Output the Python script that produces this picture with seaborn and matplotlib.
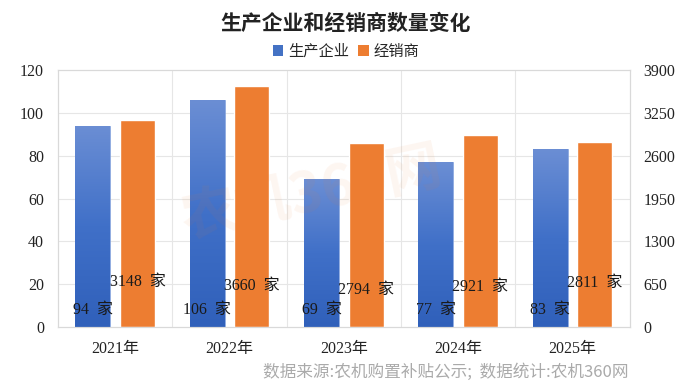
import numpy as np
import pandas as pd
import matplotlib
matplotlib.use("Agg")
import matplotlib.pyplot as plt
import seaborn as sns
from matplotlib.colors import LinearSegmentedColormap
from matplotlib.patches import Patch

years = ["2021年", "2022年", "2023年", "2024年", "2025年"]
producers = [94, 106, 69, 77, 83]
dealers = [3148, 3660, 2794, 2921, 2811]
producer_labels = ["94  家", "106  家", "69  家", "77  家", "83  家"]
dealer_labels = ["3148  家", "3660  家", "2794  家", "2921  家", "2811  家"]
left_ticks = [0, 20, 40, 60, 80, 100, 120]
right_ticks = [0, 650, 1300, 1950, 2600, 3250, 3900]

sns.set_theme(style="white")
CJK = ["Noto Sans CJK SC", "DejaVu Sans"]
SERIF = ["Liberation Serif", "Noto Sans CJK SC"]
plt.rcParams["font.family"] = CJK

fig = plt.figure(figsize=(6.92, 3.87), dpi=100)
ax1 = fig.add_axes([0.0838, 0.155, 0.8262, 0.664])
ax2 = ax1.twinx()

df_p = pd.DataFrame({"year": years, "value": producers})
df_d = pd.DataFrame({"year": years, "value": dealers})

BLUE = "#4472C4"
ORANGE = "#ED7D31"
off = 0.195
w = 0.305
sns.barplot(data=df_p, x="year", y="value", ax=ax1, color=BLUE, width=w,
            saturation=1, legend=False)
sns.barplot(data=df_d, x="year", y="value", ax=ax2, color=ORANGE, width=w,
            saturation=1, legend=False)

for p in ax1.patches:
    p.set_x(p.get_x() - off)
for p in ax2.patches:
    p.set_x(p.get_x() + off)

# gradient for blue bars
cmap = LinearSegmentedColormap.from_list("g", ["#3060BA", "#4070C8", "#6B8ED4"])
grad = np.linspace(0, 1, 256).reshape(-1, 1)
for p in list(ax1.patches):
    x0, y0 = p.get_x(), p.get_y()
    x1, y1 = x0 + p.get_width(), y0 + p.get_height()
    im = ax1.imshow(grad, extent=[x0, x1, y0, y1], origin="lower", cmap=cmap,
                    aspect="auto", zorder=p.get_zorder(), interpolation="bicubic")
    im.set_clip_path(p)
    p.set_facecolor("none")
    p.set_edgecolor("#7F9FDC")
    p.set_linewidth(0.6)
ax1.set_xlim(-0.5, 4.5)
ax1.set_ylim(0, 120)
ax2.set_ylim(0, 3900)
ax1.set_yticks(left_ticks)
ax2.set_yticks(right_ticks)

# grid
for y in left_ticks[1:-1]:
    ax1.axhline(y, color="#E6E6E6", lw=0.8, zorder=0)
for x in [0.5, 1.5, 2.5, 3.5]:
    ax1.axvline(x, color="#E6E6E6", lw=0.8, zorder=0)
ax1.set_axisbelow(True)
ax2.set_zorder(ax1.get_zorder() + 1)
ax2.patch.set_visible(False)

for ax in (ax1, ax2):
    for s in ax.spines.values():
        s.set_color("#D9D9D9")
        s.set_linewidth(0.8)
    ax.set_xlabel("")
    ax.set_ylabel("")
    ax.tick_params(length=0)

ax1.set_xticks(range(5))
ax1.set_xticklabels(years, fontsize=11.5, family=SERIF, color="#222222")
ax1.tick_params(axis="x", pad=10)
for t in ax1.get_yticklabels() + ax2.get_yticklabels():
    t.set_fontsize(11.5); t.set_family(SERIF); t.set_color("#222222")
ax1.tick_params(axis="y", pad=10)
ax2.tick_params(axis="y", pad=10)

# data labels (positioned low inside bars, as in original)
dealer_label_y = [21, 19, 17.5, 18.5, 20.5]
for i, lab in enumerate(producer_labels):
    ax2.text(i - off, 8 * 3900 / 120, lab, ha="center", va="center", fontsize=11.5,
             family=SERIF, color="#1a1a1a", zorder=10)
for i, lab in enumerate(dealer_labels):
    ax2.text(i + off, dealer_label_y[i] * 3900 / 120, lab, ha="center", va="center",
             fontsize=11.5, family=SERIF, color="#1a1a1a", zorder=10)

# watermark
fig.text(0.45, 0.50, "农机360网", fontsize=40, color=ORANGE, alpha=0.07,
         rotation=12, ha="center", va="center", fontweight="bold", family=CJK)

# title & legend
fig.text(0.5, 0.94, "生产企业和经销商数量变化", ha="center", va="center",
         fontsize=15, fontweight="bold", color="#222222", family=CJK)
handles = [Patch(facecolor=BLUE, edgecolor="none"), Patch(facecolor=ORANGE, edgecolor="none")]
fig.legend(handles, ["生产企业", "经销商"], loc="center", bbox_to_anchor=(0.5, 0.868),
           ncol=2, frameon=False, fontsize=11, handlelength=0.7, handleheight=0.7,
           handletextpad=0.3, columnspacing=0.6)

fig.text(0.908, 0.038, "数据来源:农机购置补贴公示;  数据统计:农机360网", ha="right",
         va="center", fontsize=12, color="#AAAAAA", family=CJK)

fig.savefig("out.png", dpi=100)
